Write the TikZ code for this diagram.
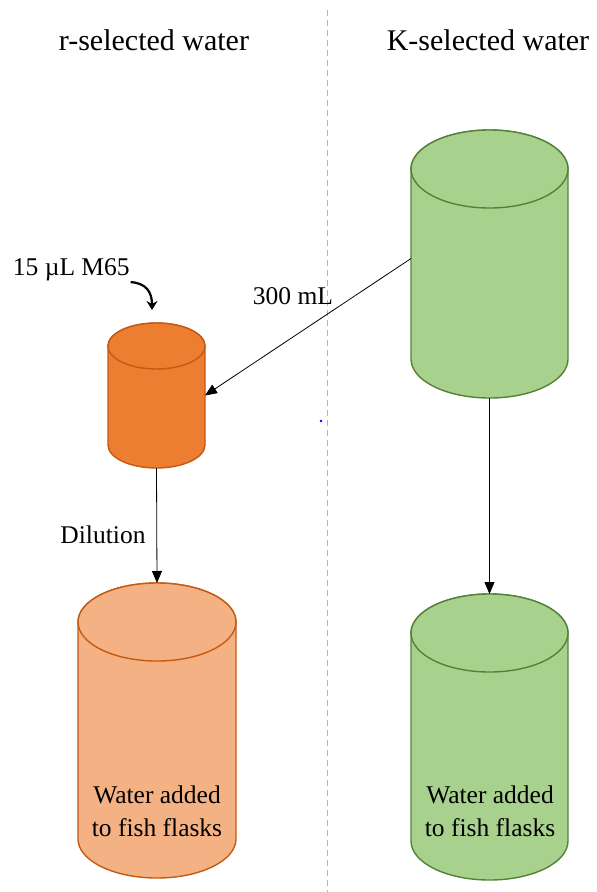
\documentclass[tikz,border=0pt]{standalone}
\usepackage{fontspec}
\setmainfont{Liberation Serif}
\usetikzlibrary{arrows.meta}

\definecolor{kFill}{RGB}{169,209,142}
\definecolor{kLine}{RGB}{84,130,53}
\definecolor{rDark}{RGB}{237,125,49}
\definecolor{rLight}{RGB}{244,177,131}
\definecolor{rLine}{RGB}{197,90,17}
\definecolor{divider}{RGB}{180,180,180}

\tikzset{
  tankbox/.style={inner sep=0pt, outer sep=0pt},
  kCan/.style={fill=kFill, draw=kLine, line width=1.4pt},
  rCan/.style={draw=rLine, line width=1.4pt},
  flow/.style={-{Triangle[length=12pt,width=10pt]}, line width=0.8pt},
  lbl/.style={font=\fontsize{25.5}{33}\selectfont, inner sep=0.75pt},
  ttl/.style={font=\fontsize{30}{36}\selectfont, inner sep=0.75pt}
}

\begin{document}
\begin{tikzpicture}[x=1pt,y=1pt,yscale=-1,xscale=1]
        \useasboundingbox (0,0) rectangle (597,892);

        %Straight Lines: divider
        \draw [color=divider, dash pattern=on 6pt off 4pt, line width=0.8pt] (327,10) -- (327,892);

        %Shape: Can [K source]
        \draw [kCan] (411,169) -- (411,359) arc[start angle=180, end angle=0, x radius=78.5, y radius=39] -- (568,169) arc[start angle=0, end angle=-180, x radius=78.5, y radius=39] -- cycle ;
        \draw [kCan] (489.5,169) ellipse [x radius=78.5, y radius=39] ;
        \node [tankbox, minimum width=157, minimum height=268] (kSrc) at (489.5,264) {};

        %Shape: Can [K flasks]
        \draw [kCan] (411,633) -- (411,841) arc[start angle=180, end angle=0, x radius=78.5, y radius=39] -- (568,633) arc[start angle=0, end angle=-180, x radius=78.5, y radius=39] -- cycle ;
        \draw [kCan] (489.5,633) ellipse [x radius=78.5, y radius=39] ;
        \node [tankbox, minimum width=157, minimum height=286] (kUse) at (489.5,737) {};

        %Shape: Can [r stock]
        \draw [rCan, fill=rDark] (108,346) -- (108,445) arc[start angle=180, end angle=0, x radius=48.5, y radius=23] -- (205,346) arc[start angle=0, end angle=-180, x radius=48.5, y radius=23] -- cycle ;
        \draw [rCan, fill=rDark] (156.5,346) ellipse [x radius=48.5, y radius=23] ;
        \node [tankbox, minimum width=97, minimum height=145] (rSmall) at (156.5,395.5) {};

        %Shape: Can [r flasks]
        \draw [rCan, fill=rLight] (78,622) -- (78,839) arc[start angle=180, end angle=0, x radius=79, y radius=39] -- (236,622) arc[start angle=0, end angle=-180, x radius=79, y radius=39] -- cycle ;
        \draw [rCan, fill=rLight] (157,622) ellipse [x radius=79, y radius=39] ;
        \node [tankbox, minimum width=158, minimum height=295] (rUse) at (157,730.5) {};

        % Text Node
        \node [ttl] (rTitle) at (154,40) {r-selected water};
        % Text Node
        \node [ttl] (kTitle) at (488,40) {K-selected water};
        % Text Node
        \node [lbl, anchor=west] (dose) at (12,270) {15 µL M65};
        % Text Node
        \node [lbl] (vol) at (293,296) {300 mL};
        % Text Node
        \node [lbl] (dil) at (103,535) {Dilution};
        % Text Node
        \node [lbl, align=center] (rText) at (157,811) {Water added\\to fish flasks};
        % Text Node
        \node [lbl, align=center] (kText) at (490,811) {Water added\\to fish flasks};

        %Curve Lines: dose
        \coordinate (dropEnd) at (152,310);
        \draw [line width=2.2pt, -{Stealth[length=9pt,width=11pt]}] (dose.south east) .. controls (146,283) and (152,292) .. (dropEnd);

        %Straight Lines
        \draw [flow] (kSrc.176) -- (rSmall.east);
        %Straight Lines
        \draw [flow] (rSmall.south) -- (rUse.north);
        %Straight Lines
        \draw [flow] (kSrc.south) -- (kUse.north);

        %Shape: Circle
        \fill [blue] (321,421) circle [radius=1.3];

\end{tikzpicture}
\end{document}
